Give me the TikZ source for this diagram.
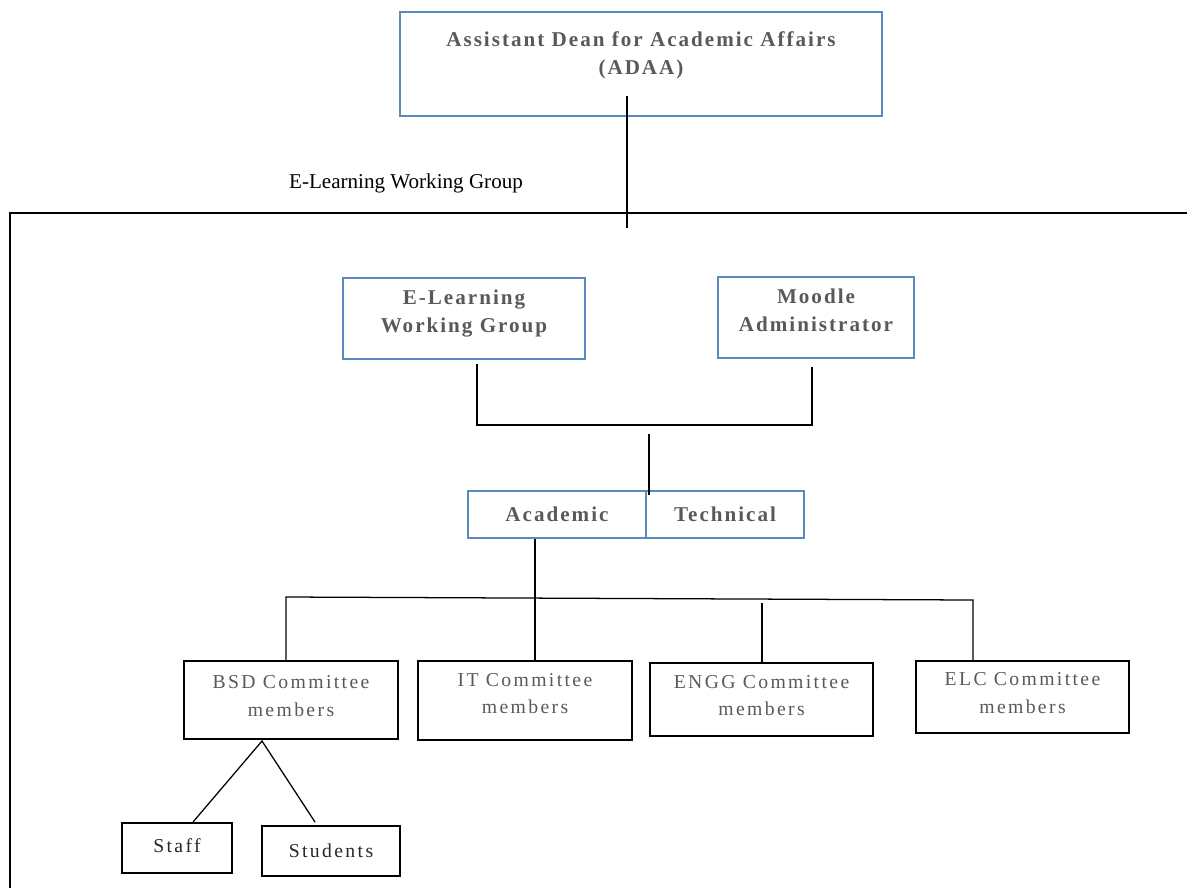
\documentclass[tikz,border=0pt]{standalone}
\usepackage{fontspec}
\setmainfont{Liberation Serif}
\newfontfamily\headfont{Liberation Serif}[LetterSpace=9.5]
\newfontfamily\memfont{Liberation Serif}[LetterSpace=12]
\definecolor{boxblue}{HTML}{5B8AC0}
\definecolor{textgray}{HTML}{595959}

\begin{document}
\begin{tikzpicture}[x=0.025cm,y=-0.025cm,
  headbox/.style={draw=boxblue, line width=1pt, align=center, inner sep=0pt,
    text=textgray, font=\headfont\bfseries\fontsize{15}{20}\selectfont},
  membox/.style={draw, line width=1pt, align=center, inner sep=0pt,
    text=textgray, font=\memfont\fontsize{14}{19.5}\selectfont},
  kidbox/.style={membox, text=black!85},
  link/.style={line width=0.9pt}]
\useasboundingbox (0,0) rectangle (1187,888);
% outer frame of the working group
\draw [link] (10,888) -- (10,213) -- (1187,213);
\node [font=\fontsize{15}{18}\selectfont] (ewglabel) at (406,183) {E-Learning Working Group};
\node [headbox, minimum width=12.05cm, minimum height=2.6cm, text depth=16pt] (adaa) at (641,64) {Assistant Dean for Academic Affairs\\(ADAA)};
\node [headbox, minimum width=6.05cm, minimum height=2.025cm, text depth=10pt] (elwg) at (464,318.5) {E-Learning\\Working Group};
\node [headbox, minimum width=4.9cm, minimum height=2.025cm, text depth=11pt] (moodle) at (816,317.5) {Moodle\\Administrator};
\node [headbox, minimum width=4.45cm, minimum height=1.175cm] (academic) at (557,514.5) {Academic};
\node [headbox, minimum width=3.95cm, minimum height=1.175cm] (technical) at (725,514.5) {Technical};
\node [membox, minimum width=5.35cm, minimum height=1.95cm, text depth=6pt] (bsd) at (291,700) {BSD Committee\\members};
\node [membox, minimum width=5.35cm, minimum height=1.975cm, text depth=10pt] (itc) at (525,700.5) {IT Committee\\members};
\node [membox, minimum width=5.575cm, minimum height=1.825cm, text depth=6pt] (engg) at (761.5,699.5) {ENGG Committee\\members};
\node [membox, minimum width=5.325cm, minimum height=1.8cm, text depth=6pt] (elc) at (1022.5,697) {ELC Committee\\members};
\node [kidbox, minimum width=2.75cm, minimum height=1.25cm, text depth=3pt] (staff) at (177,848) {Staff};
\node [kidbox, minimum width=3.45cm, minimum height=1.25cm] (students) at (331,851) {Students};
% connector points
\coordinate (adaadrop) at (627,228);
\coordinate (joinL) at (477,425);
\coordinate (joinR) at (812,425);
\coordinate (joinM) at (649,434);
\coordinate (acdrop) at (535,600);
\coordinate (barL) at (286,597);
\coordinate (barR) at (973,600);
\coordinate (barE) at (762,603);
\coordinate (split) at (262,741);
\coordinate (staffend) at (193,822);
\coordinate (studend) at (315,822);
% connectors
\draw [link] ([yshift=15pt]adaa.south -| adaadrop) -- (adaadrop);
\draw [link] ([yshift=-3pt]elwg.south -| joinL) -- (joinL) -- (joinR) -- ([yshift=-6pt]moodle.south -| joinR);
\draw [link] (joinM) -- ([yshift=-3pt]academic.north -| joinM);
\draw [link] (academic.south -| acdrop) -- (itc.north -| acdrop);
\draw [link] (bsd.north -| barL) -- (barL) -- (barR) -- (elc.north -| barR);
\draw [link] (barE) -- (engg.north -| barE);
\draw [link] (staffend) -- (split) -- (studend);
\end{tikzpicture}
\end{document}
